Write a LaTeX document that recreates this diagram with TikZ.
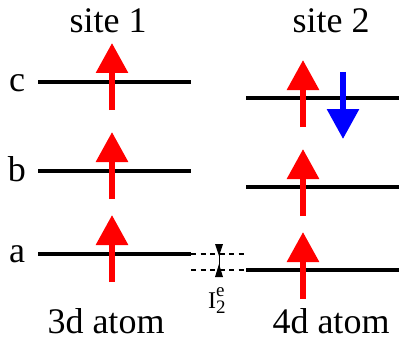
\documentclass[tikz,border=0pt]{standalone}
\usepackage{fontspec}
\setmainfont{Liberation Serif}
\usetikzlibrary{arrows.meta}
\tikzset{
  level/.style={line width=4pt, black},
  spin/.style={line width=6pt, -{Triangle[width=31pt,length=30pt]}},
  up/.style={spin, red},
  dn/.style={spin, blue},
  guide/.style={line width=1.3pt, dash pattern=on 5pt off 4.5pt},
  lbl/.style={anchor=base, inner sep=0pt, font=\fontsize{36}{40}\selectfont},
  dimtip/.style={fill=black},
}
\begin{document}
\begin{tikzpicture}[x=1pt,y=-1pt]
\useasboundingbox (0,0) rectangle (399,337);
% level coordinates
\coordinate (c1l) at (38,82);  \coordinate (c1r) at (191,82);
\coordinate (b1l) at (38,171); \coordinate (b1r) at (191,171);
\coordinate (a1l) at (38,254); \coordinate (a1r) at (191,254);
\coordinate (c2l) at (246,98);  \coordinate (c2r) at (399,98);
\coordinate (b2l) at (246,187); \coordinate (b2r) at (399,187);
\coordinate (a2l) at (246,270); \coordinate (a2r) at (399,270);
\draw[level] (c1l) -- (c1r);
\draw[level] (b1l) -- (b1r);
\draw[level] (a1l) -- (a1r);
\draw[level] (c2l) -- (c2r);
\draw[level] (b2l) -- (b2r);
\draw[level] (a2l) -- (a2r);
% dashed guides
\draw[guide] (a1r) -- (a1r -| a2l);
\draw[guide] (a2l -| a1r) -- (a2l);
% spins site 1
\coordinate (s1c0) at (112,110); \coordinate (s1c1) at (112,43);
\coordinate (s1b0) at (112,199); \coordinate (s1b1) at (112,132);
\coordinate (s1a0) at (112,282); \coordinate (s1a1) at (112,215);
\draw[up] (s1c0) -- (s1c1);
\draw[up] (s1b0) -- (s1b1);
\draw[up] (s1a0) -- (s1a1);
% spins site 2
\coordinate (s2c0) at (303,127); \coordinate (s2c1) at (303,60);
\coordinate (s2b0) at (303,216); \coordinate (s2b1) at (303,149);
\coordinate (s2a0) at (303,299); \coordinate (s2a1) at (303,232);
\coordinate (s2d0) at (343,72);  \coordinate (s2d1) at (343,139);
\draw[up] (s2c0) -- (s2c1);
\draw[up] (s2b0) -- (s2b1);
\draw[up] (s2a0) -- (s2a1);
\draw[dn] (s2d0) -- (s2d1);
% dimension marker
\coordinate (dtop) at (219,244);
\coordinate (dbot) at (219,277);
\draw[line width=1pt] (dtop) -- (dbot);
\fill[dimtip] (215,244) -- (223,244) -- (219,256) -- cycle;
\fill[dimtip] (215,277) -- (223,277) -- (219,264) -- cycle;
\node[anchor=base west, inner sep=0pt, font=\fontsize{24}{28}\selectfont] (ie) at (208,308)
  {I\rlap{\raisebox{12pt}{\fontsize{19}{19}\selectfont e}}\raisebox{-5pt}{\fontsize{19}{19}\selectfont 2}};
% labels
\node[lbl] (site1) at (108,33) {site 1};
\node[lbl] (site2) at (331,33) {site 2};
\node[lbl] (atom3) at (106,333) {3d atom};
\node[lbl] (atom4) at (331,333) {4d atom};
\node[lbl] (lc) at (17,92) {c};
\node[lbl] (lb) at (17,181) {b};
\node[lbl] (la) at (17,262) {a};
\end{tikzpicture}
\end{document}
